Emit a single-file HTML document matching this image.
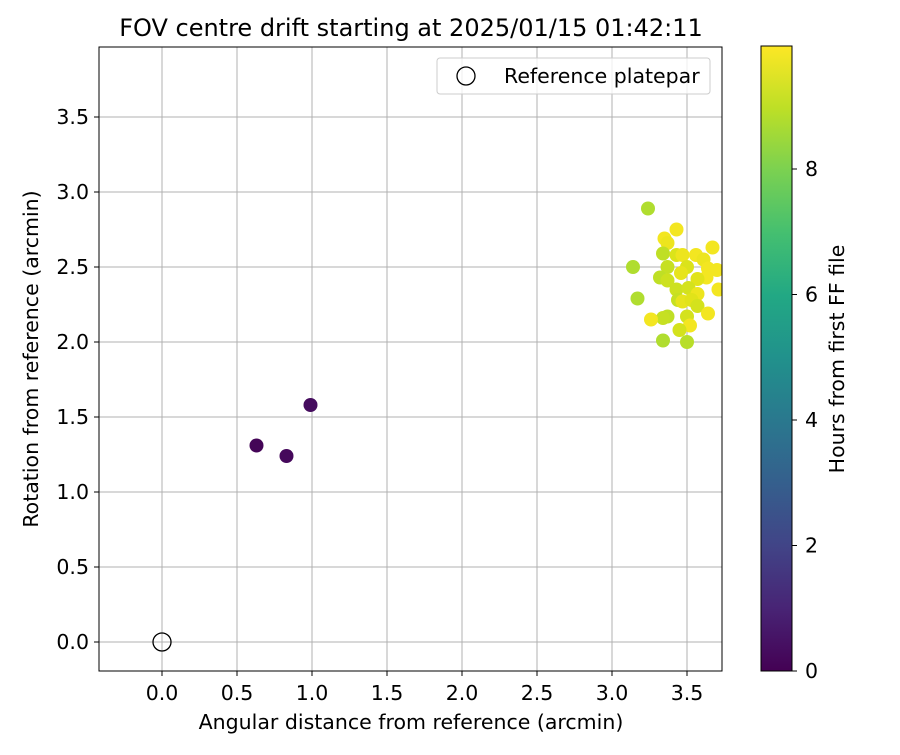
<!DOCTYPE html>
<html><head><meta charset="utf-8"><style>
body{margin:0;background:#fff;font-family:"Liberation Sans","DejaVu Sans",sans-serif;}
svg text{font-family:"DejaVu Sans","Liberation Sans",sans-serif;}
</style></head><body>
<svg id="chart" width="900" height="750" xmlns="http://www.w3.org/2000/svg">
<defs>
<linearGradient id="vir" x1="0" y1="1" x2="0" y2="0">
<stop offset="0" stop-color="#440154"/><stop offset="0.1" stop-color="#482475"/><stop offset="0.2" stop-color="#414487"/><stop offset="0.3" stop-color="#355f8d"/><stop offset="0.4" stop-color="#2a788e"/><stop offset="0.5" stop-color="#21918c"/><stop offset="0.6" stop-color="#22a884"/><stop offset="0.7" stop-color="#44bf70"/><stop offset="0.8" stop-color="#7ad151"/><stop offset="0.9" stop-color="#bddf26"/><stop offset="1" stop-color="#fde725"/>
</linearGradient>
<clipPath id="pc"><rect x="99" y="47" width="623" height="624"/></clipPath>
</defs>
<text x="411" y="36" text-anchor="middle" font-size="24">FOV centre drift starting at 2025/01/15 01:42:11</text>
<g id="grid"></g>
<g id="pts" clip-path="url(#pc)"></g>
<rect x="99" y="47" width="623" height="624" fill="none" stroke="#000" stroke-width="1"/>
<g id="ticks"></g>
<text x="411" y="729" text-anchor="middle" font-size="20.5">Angular distance from reference (arcmin)</text>
<text transform="translate(38,359) rotate(-90)" text-anchor="middle" font-size="20.5">Rotation from reference (arcmin)</text>
<g>
<rect x="437" y="58" width="273" height="36" rx="3" fill="#fff" fill-opacity="0.8" stroke="#ccc"/>
<circle cx="466" cy="76" r="9" fill="none" stroke="#000" stroke-width="1.3"/>
<text x="504" y="83" font-size="20.5">Reference platepar</text>
</g>
<rect x="761" y="46" width="31" height="625" fill="url(#vir)" stroke="#000"/>
<g id="cbt"></g>
<text transform="translate(844,359) rotate(-90)" text-anchor="middle" font-size="20.5">Hours from first FF file</text>
</svg>
<script>
const xTicks=[0.0,0.5,1.0,1.5,2.0,2.5,3.0,3.5];
const yTicks=[0.0,0.5,1.0,1.5,2.0,2.5,3.0,3.5];
const cbTicks=[0,2,4,6,8];
const xs=[0.63,0.83,0.99,3.24,3.43,3.35,3.37,3.34,3.43,3.47,3.56,3.67,3.61,3.14,3.37,3.50,3.64,3.70,3.32,3.37,3.46,3.63,3.57,3.43,3.51,3.71,3.17,3.44,3.57,3.47,3.53,3.57,3.64,3.37,3.34,3.26,3.50,3.52,3.45,3.34,3.50];
const ys=[1.31,1.24,1.58,2.89,2.75,2.69,2.66,2.59,2.58,2.58,2.58,2.63,2.55,2.50,2.50,2.50,2.49,2.48,2.43,2.41,2.46,2.43,2.42,2.35,2.36,2.35,2.29,2.28,2.32,2.27,2.28,2.24,2.19,2.17,2.16,2.15,2.17,2.11,2.08,2.01,2.00];
const hours=[0.1,0.2,0.3,8.8,9.8,9.8,9.7,9.0,9.4,9.7,9.8,9.8,9.7,8.8,9.1,9.4,9.8,9.8,9.0,9.2,9.6,9.8,9.5,9.2,9.3,9.8,8.8,9.1,9.7,9.6,9.5,9.3,9.8,9.0,9.1,9.8,9.3,9.8,9.3,8.8,8.9];
const refX=[0],refY=[0];
const X=v=>162+150*v, Y=v=>642-150*v, CB=h=>671-62.75*h;
const NS="http://www.w3.org/2000/svg";
function mk(t,a,p){const e=document.createElementNS(NS,t);for(const k in a)e.setAttribute(k,a[k]);p.appendChild(e);return e;}
const stops=[[0,[68,1,84]],[0.1,[72,36,117]],[0.2,[65,68,135]],[0.3,[53,95,141]],[0.4,[42,120,142]],[0.5,[33,145,140]],[0.6,[34,168,132]],[0.7,[68,191,112]],[0.8,[122,209,81]],[0.85,[149,216,64]],[0.9,[189,223,38]],[0.95,[223,227,24]],[1,[253,231,37]]];
function vir(h){const t=Math.max(0,Math.min(1,h/9.96));for(let i=1;i<stops.length;i++){if(t<=stops[i][0]){const a=stops[i-1],b=stops[i],f=(t-a[0])/(b[0]-a[0]);return 'rgb('+a[1].map((c,j)=>Math.round(c+(b[1][j]-c)*f)).join(',')+')';}}return 'rgb(253,231,37)';}
const g=document.getElementById('grid'),tk=document.getElementById('ticks'),pts=document.getElementById('pts'),cb=document.getElementById('cbt');
xTicks.forEach(v=>{
const l=mk('line',{x1:X(v),x2:X(v),y1:47,y2:671,stroke:'#b0b0b0','stroke-width':1},g);


mk('line',{x1:X(v),x2:X(v),y1:671,y2:676,stroke:'#000'},tk);
const t=mk('text',{x:X(v),y:700,'text-anchor':'middle','font-size':20.5},tk);t.textContent=v.toFixed(1);


});
yTicks.forEach(v=>{
const l=mk('line',{x1:99,x2:722,y1:Y(v),y2:Y(v),stroke:'#b0b0b0','stroke-width':1},g);


mk('line',{x1:94,x2:99,y1:Y(v),y2:Y(v),stroke:'#000'},tk);
const t=mk('text',{x:89,y:Y(v)+7,'text-anchor':'end','font-size':20.5},tk);t.textContent=v.toFixed(1);


});
cbTicks.forEach(v=>{
mk('line',{x1:792,x2:797,y1:CB(v),y2:CB(v),stroke:'#000'},cb);
const t=mk('text',{x:805,y:CB(v)+7,'font-size':20.5},cb);t.textContent=v;


});
xs.forEach((x,i)=>{
const c=mk('circle',{cx:X(x),cy:Y(ys[i]),r:7,fill:vir(hours[i])},pts);


});
refX.forEach((x,i)=>{
const c=mk('circle',{cx:X(x),cy:Y(refY[i]),r:9,fill:'none',stroke:'#000','stroke-width':1.3},pts);


});
</script>
</body></html>
